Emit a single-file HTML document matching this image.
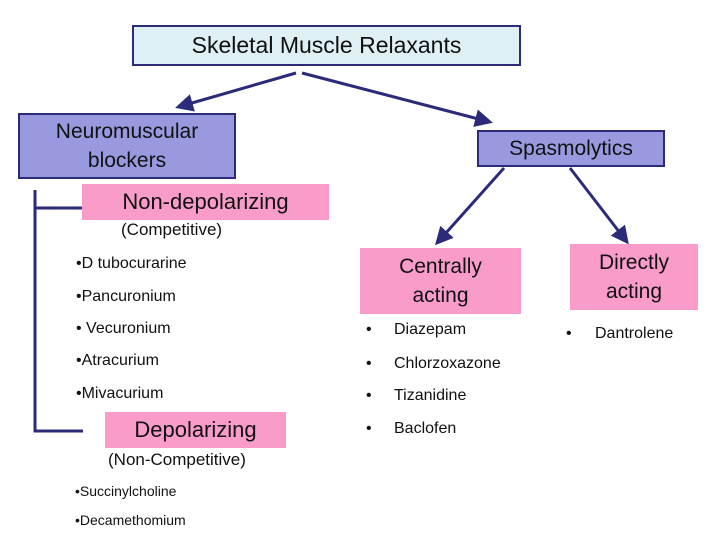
<!DOCTYPE html>
<html><head><style>
body{margin:0;width:720px;height:540px;background:#fff;position:relative;overflow:hidden;font-family:"Liberation Sans",sans-serif;color:#111}
.a{position:absolute;white-space:nowrap}
.box{position:absolute;box-sizing:border-box;text-align:center;display:flex;align-items:center;justify-content:center;line-height:1.2}
.two{line-height:29px}
</style></head><body>
<div class="box" style="left:132px;top:25px;width:389px;height:41px;background:#def0f4;border:2px solid #2b2b7a;font-size:23px">Skeletal Muscle Relaxants</div>
<div class="box two" style="left:18px;top:113px;width:218px;height:66px;background:#9999e0;border:2px solid #2b2b7a;font-size:21px;align-items:flex-start;padding-top:2px">Neuromuscular<br>blockers</div>
<div class="box" style="left:477px;top:130px;width:188px;height:37px;background:#9999e0;border:2px solid #2b2b7a;font-size:21px">Spasmolytics</div>
<div class="box" style="left:82px;top:184px;width:247px;height:36px;background:#f99cc9;font-size:22px">Non-depolarizing</div>
<div class="a" style="left:121px;top:220px;font-size:17px">(Competitive)</div>
<div class="box two" style="left:360px;top:248px;width:161px;height:66px;background:#f99cc9;font-size:21px">Centrally<br>acting</div>
<div class="box two" style="left:570px;top:244px;width:128px;height:66px;background:#f99cc9;font-size:21px">Directly<br>acting</div>
<div class="box" style="left:105px;top:412px;width:181px;height:36px;background:#f99cc9;font-size:22px">Depolarizing</div>
<div class="a" style="left:108px;top:450px;font-size:17px">(Non-Competitive)</div>
<div class="a" style="left:76px;top:255px;font-size:16px">•D tubocurarine</div>
<div class="a" style="left:76px;top:288px;font-size:16px">•Pancuronium</div>
<div class="a" style="left:76px;top:320px;font-size:16px">• Vecuronium</div>
<div class="a" style="left:76px;top:352px;font-size:16px">•Atracurium</div>
<div class="a" style="left:76px;top:385px;font-size:16px">•Mivacurium</div>
<div class="a" style="left:75px;top:483px;font-size:14px">•Succinylcholine</div>
<div class="a" style="left:75px;top:512px;font-size:14px">•Decamethomium</div>
<div class="a" style="left:366px;top:321px;font-size:16px">•</div><div class="a" style="left:394px;top:321px;font-size:16px">Diazepam</div>
<div class="a" style="left:366px;top:355px;font-size:16px">•</div><div class="a" style="left:394px;top:355px;font-size:16px">Chlorzoxazone</div>
<div class="a" style="left:366px;top:387px;font-size:16px">•</div><div class="a" style="left:394px;top:387px;font-size:16px">Tizanidine</div>
<div class="a" style="left:366px;top:420px;font-size:16px">•</div><div class="a" style="left:394px;top:420px;font-size:16px">Baclofen</div>
<div class="a" style="left:566px;top:325px;font-size:16px">•</div><div class="a" style="left:595px;top:325px;font-size:16px">Dantrolene</div>
<svg width="720" height="540" style="position:absolute;left:0;top:0">
<defs><marker id="m" markerWidth="6" markerHeight="6" refX="5" refY="3" orient="auto" markerUnits="strokeWidth"><path d="M0,0L6,3L0,6z" fill="#2b2b7a"/></marker></defs>
<g stroke="#2b2b7a" stroke-width="3" fill="none">
<line x1="296" y1="73" x2="178" y2="107" marker-end="url(#m)"/>
<line x1="302" y1="73" x2="490" y2="122" marker-end="url(#m)"/>
<line x1="504" y1="168" x2="437" y2="243" marker-end="url(#m)"/>
<line x1="570" y1="168" x2="627" y2="242" marker-end="url(#m)"/>
<polyline points="35,190 35,431 83,431"/>
<line x1="35" y1="208" x2="82" y2="208"/>
</g></svg>
</body></html>
